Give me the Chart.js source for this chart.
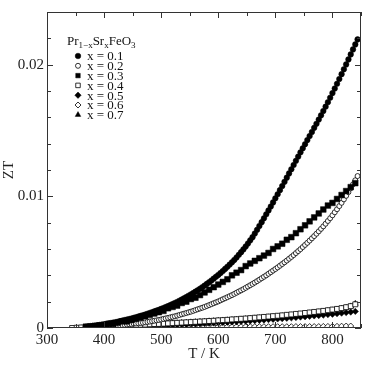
<!DOCTYPE html>
<html>
<head>
<meta charset="utf-8">
<script src="https://cdn.jsdelivr.net/npm/chart.js@4"></script>
<style>
  html, body { margin: 0; padding: 0; background: #fff; }
  #wrap { width: 367px; height: 365px; }
</style>
</head>
<body>
<div id="wrap"><canvas id="ztChart" width="367" height="365"></canvas></div>
<script>
// temperature grids (K): fine grid for x = 0.1, 0.2; coarse grid for the rest
const tempsFine = [
  368, 372, 376, 380, 384, 388, 392, 396, 400, 404,
  408, 412, 416, 420, 424, 428, 432, 436, 440, 444,
  448, 452, 456, 460, 464, 468, 472, 476, 480, 484,
  488, 492, 496, 500, 504, 508, 512, 516, 520, 524,
  528, 532, 536, 540, 544, 548, 552, 556, 560, 564,
  568, 572, 576, 580, 584, 588, 592, 596, 600, 604,
  608, 612, 616, 620, 624, 628, 632, 636, 640, 644,
  648, 652, 656, 660, 664, 668, 672, 676, 680, 684,
  688, 692, 696, 700, 704, 708, 712, 716, 720, 724,
  728, 732, 736, 740, 744, 748, 752, 756, 760, 764,
  768, 772, 776, 780, 784, 788, 792, 796, 800, 804,
  808, 812, 816, 820, 824, 828, 832, 836, 840, 844
];
const temps = [
  344, 352, 360, 368, 376, 384, 392, 400, 408,
  416, 424, 432, 440, 448, 456, 464, 472, 480,
  488, 496, 504, 512, 520, 528, 536, 544, 552,
  560, 568, 576, 584, 592, 600, 608, 616, 624,
  632, 640, 648, 656, 664, 672, 680, 688, 696,
  704, 712, 720, 728, 736, 744, 752, 760, 768,
  776, 784, 792, 800, 808, 816, 824, 832, 840
];

// ZT, x = 0.1 (on tempsFine)
const zt01 = [
  0.00010, 0.00012, 0.00014, 0.00016, 0.00018, 0.00020, 0.00023, 0.00026, 0.00029, 0.00032,
  0.00035, 0.00038, 0.00041, 0.00044, 0.00048, 0.00052, 0.00056, 0.00060, 0.00064, 0.00068,
  0.00072, 0.00077, 0.00082, 0.00087, 0.00092, 0.00097, 0.00102, 0.00108, 0.00114, 0.00120,
  0.00126, 0.00132, 0.00138, 0.00145, 0.00152, 0.00159, 0.00166, 0.00174, 0.00182, 0.00190,
  0.00198, 0.00207, 0.00216, 0.00225, 0.00235, 0.00245, 0.00255, 0.00265, 0.00276, 0.00287,
  0.00298, 0.00310, 0.00322, 0.00335, 0.00348, 0.00361, 0.00375, 0.00389, 0.00403, 0.00418,
  0.00433, 0.00449, 0.00465, 0.00482, 0.00499, 0.00517, 0.00536, 0.00556, 0.00576, 0.00597,
  0.00619, 0.00642, 0.00666, 0.00690, 0.00718, 0.00746, 0.00775, 0.00804, 0.00833, 0.00863,
  0.00893, 0.00923, 0.00954, 0.00985, 0.01016, 0.01047, 0.01078, 0.01110, 0.01142, 0.01174,
  0.01206, 0.01238, 0.01270, 0.01302, 0.01334, 0.01365, 0.01396, 0.01427, 0.01458, 0.01489,
  0.01520, 0.01551, 0.01583, 0.01615, 0.01648, 0.01681, 0.01715, 0.01749, 0.01784, 0.01819,
  0.01855, 0.01891, 0.01928, 0.01965, 0.02002, 0.02040, 0.02078, 0.02116, 0.02154, 0.02192
];
// ZT, x = 0.2 (on tempsFine)
const zt02 = [
  null, null, 0.00005, 0.00006, 0.00007, 0.00008, 0.00009, 0.00010, 0.00011, 0.00012,
  0.00013, 0.00014, 0.00015, 0.00016, 0.00018, 0.00020, 0.00022, 0.00024, 0.00026, 0.00028,
  0.00030, 0.00032, 0.00034, 0.00036, 0.00038, 0.00040, 0.00043, 0.00046, 0.00049, 0.00052,
  0.00055, 0.00058, 0.00061, 0.00065, 0.00069, 0.00073, 0.00077, 0.00081, 0.00085, 0.00089,
  0.00094, 0.00099, 0.00104, 0.00109, 0.00114, 0.00119, 0.00124, 0.00130, 0.00136, 0.00142,
  0.00148, 0.00154, 0.00160, 0.00167, 0.00174, 0.00181, 0.00188, 0.00195, 0.00202, 0.00210,
  0.00218, 0.00226, 0.00234, 0.00242, 0.00250, 0.00259, 0.00268, 0.00277, 0.00286, 0.00295,
  0.00305, 0.00315, 0.00325, 0.00335, 0.00345, 0.00356, 0.00367, 0.00378, 0.00389, 0.00400,
  0.00412, 0.00424, 0.00436, 0.00448, 0.00460, 0.00473, 0.00486, 0.00499, 0.00512, 0.00526,
  0.00540, 0.00554, 0.00569, 0.00584, 0.00599, 0.00615, 0.00631, 0.00647, 0.00664, 0.00681,
  0.00698, 0.00716, 0.00734, 0.00753, 0.00772, 0.00792, 0.00813, 0.00834, 0.00856, 0.00879,
  0.00902, 0.00926, 0.00951, 0.00977, 0.01004, 0.01032, 0.01061, 0.01091, 0.01122, 0.01154
];
// ZT, x = 0.3 ... 0.7 (on temps)
const zt03 = [
  null, null, null, 0.0001, 0.0001, 0.00015, 0.0002, 0.0002, 0.0003,
  0.0003, 0.0004, 0.0005, 0.0005, 0.0006, 0.0007, 0.0008, 0.0009, 0.0010,
  0.0011, 0.0012, 0.0013, 0.0015, 0.0016, 0.0017, 0.0019, 0.0020, 0.0022,
  0.0023, 0.0025, 0.0027, 0.0029, 0.0031, 0.0033, 0.0035, 0.0037, 0.0040,
  0.0042, 0.0044, 0.0047, 0.0049, 0.0051, 0.0053, 0.0055, 0.0057, 0.0060,
  0.0062, 0.0064, 0.0067, 0.0069, 0.0072, 0.0075, 0.0078, 0.0081, 0.0084,
  0.0087, 0.0090, 0.0093, 0.0095, 0.0098, 0.0101, 0.0104, 0.0107, 0.0110
];
const zt04 = [
  0.00000, 0.00002, 0.00004, 0.00006, 0.00008, 0.00010, 0.00011, 0.00012, 0.00014,
  0.00015, 0.00017, 0.00018, 0.00020, 0.00021, 0.00023, 0.00025, 0.00026, 0.00028,
  0.00030, 0.00031, 0.00033, 0.00035, 0.00037, 0.00039, 0.00041, 0.00043, 0.00045,
  0.00047, 0.00049, 0.00051, 0.00053, 0.00055, 0.00058, 0.00060, 0.00062, 0.00065,
  0.00067, 0.00070, 0.00072, 0.00075, 0.00078, 0.00081, 0.00084, 0.00087, 0.00090,
  0.00093, 0.00096, 0.00100, 0.00103, 0.00107, 0.00110, 0.00114, 0.00118, 0.00122,
  0.00126, 0.00130, 0.00135, 0.00140, 0.00145, 0.00151, 0.00158, 0.00166, 0.00180
];
const zt05 = [
  null, null, 0.00000, 0.00002, 0.00003, 0.00004, 0.00005, 0.00006, 0.00007,
  0.00008, 0.00009, 0.00010, 0.00011, 0.00012, 0.00013, 0.00014, 0.00015, 0.00016,
  0.00017, 0.00018, 0.00020, 0.00021, 0.00023, 0.00024, 0.00026, 0.00027, 0.00029,
  0.00030, 0.00032, 0.00034, 0.00036, 0.00038, 0.00040, 0.00042, 0.00044, 0.00046,
  0.00048, 0.00050, 0.00052, 0.00054, 0.00057, 0.00059, 0.00061, 0.00064, 0.00066,
  0.00069, 0.00071, 0.00074, 0.00077, 0.00080, 0.00083, 0.00086, 0.00089, 0.00092,
  0.00095, 0.00098, 0.00102, 0.00105, 0.00109, 0.00113, 0.00117, 0.00121, 0.00126
];
const zt06 = [
  null, null, null, 0.00008, 0.00008, 0.00009, 0.00009, 0.00009, 0.00010,
  0.00010, 0.00010, 0.00010, 0.00010, 0.00010, 0.00010, 0.00010, 0.00010, 0.00010,
  0.00010, 0.00010, 0.00010, 0.00010, 0.00010, 0.00010, 0.00010, 0.00010, 0.00010,
  0.00010, 0.00010, 0.00010, 0.00010, 0.00010, 0.00010, 0.00010, 0.00010, 0.00010,
  0.00010, 0.00010, 0.00010, 0.00010, 0.00010, 0.00010, 0.00010, 0.00010, 0.00010,
  0.00010, 0.00010, 0.00010, 0.00010, 0.00011, 0.00011, 0.00011, 0.00011, 0.00011,
  0.00011, 0.00012, 0.00012, 0.00012, 0.00013, 0.00014, 0.00015, 0.00015, null
];
const zt07 = [
  null, null, null, null, 0.00003, 0.00005, 0.00007, 0.00009, 0.00011,
  0.00013, 0.00015, 0.00017, 0.00019, 0.00021, 0.00022, 0.00024, 0.00026, 0.00027,
  0.00029, 0.00031, 0.00032, 0.00034, 0.00036, 0.00038, 0.00040, 0.00042, 0.00044,
  0.00046, 0.00048, 0.00050, 0.00052, 0.00054, 0.00056, 0.00058, 0.00060, 0.00062,
  0.00064, 0.00066, 0.00069, 0.00071, 0.00074, 0.00076, 0.00079, 0.00082, 0.00085,
  0.00088, 0.00091, 0.00094, 0.00097, 0.00100, 0.00104, 0.00108, 0.00112, 0.00116,
  0.00120, 0.00125, 0.00130, 0.00135, 0.00141, 0.00147, 0.00154, 0.00165, 0.00185
];

const seriesLabels = ['x = 0.1', 'x = 0.2', 'x = 0.3', 'x = 0.4', 'x = 0.5', 'x = 0.6', 'x = 0.7'];

const xMajorTicks = [300, 400, 500, 600, 700, 800];
const xMinorTicks = [350, 450, 550, 650, 750, 850];
const yMajorTicks = [0, 0.01, 0.02];
const yMinorTicks = [0.002, 0.004, 0.006, 0.008, 0.012, 0.014, 0.016, 0.018, 0.022];

const SERIF = "'Liberation Serif', 'Times New Roman', serif";

function toPoints(ts, vals) {
    const pts = [];
    vals.forEach((v, i) => { if (v !== null) pts.push({ x: ts[i], y: v }); });
    return pts;
}

// marker look per series
const styles = [
    { pointStyle: 'circle', filled: true, r: 2.8 },
    { pointStyle: 'circle', filled: false, r: 2.5 },
    { pointStyle: 'rect', filled: true, r: 4.0 },
    { pointStyle: 'rect', filled: false, r: 3.5 },
    { pointStyle: 'rectRot', filled: true, r: 3.2 },
    { pointStyle: 'rectRot', filled: false, r: 3.0 },
    { pointStyle: 'triangle', filled: true, r: 3.4 }
];
const allSeries = [
    [tempsFine, zt01], [tempsFine, zt02], [temps, zt03], [temps, zt04],
    [temps, zt05], [temps, zt06], [temps, zt07]
];

const datasets = allSeries.map(([ts, vals], i) => ({
    label: seriesLabels[i],
    data: toPoints(ts, vals),
    showLine: false,
    pointStyle: styles[i].pointStyle,
    pointRadius: styles[i].r,
    pointHoverRadius: styles[i].r,
    pointBackgroundColor: styles[i].filled ? '#000' : '#fff',
    pointBorderColor: '#000',
    pointBorderWidth: styles[i].filled ? 0.5 : 0.8
}));
// draw low series first so the big curves sit on top
const drawOrder = [5, 4, 6, 3, 1, 2, 0];
drawOrder.forEach((idx, k) => { datasets[idx].order = drawOrder.length - k; });

const framePlugin = {
    id: 'frame',
    afterDraw(chart) {
        const { ctx, chartArea: a, scales: { x, y } } = chart;
        ctx.save();
        ctx.strokeStyle = '#333';
        ctx.lineWidth = 1;
        ctx.strokeRect(a.left + 0.5, a.top + 0.5, a.right - a.left - 1, a.bottom - a.top - 1);
        ctx.beginPath();
        const xt = (v, len) => {
            const px = Math.round(x.getPixelForValue(v)) + 0.5;
            ctx.moveTo(px, a.bottom); ctx.lineTo(px, a.bottom - len);
            ctx.moveTo(px, a.top); ctx.lineTo(px, a.top + len);
        };
        const yt = (v, len) => {
            const py = Math.round(y.getPixelForValue(v)) + 0.5;
            ctx.moveTo(a.left, py); ctx.lineTo(a.left + len, py);
            ctx.moveTo(a.right, py); ctx.lineTo(a.right - len, py);
        };
        xMajorTicks.forEach(v => xt(v, 6));
        xMinorTicks.forEach(v => xt(v, 4));
        yMajorTicks.forEach(v => yt(v, 6));
        yMinorTicks.forEach(v => yt(v, 4));
        ctx.stroke();
        ctx.restore();
    }
};

const legendPlugin = {
    id: 'inlineLegend',
    afterDatasetsDraw(chart) {
        const ctx = chart.ctx;
        ctx.save();
        ctx.fillStyle = '#111';
        ctx.textBaseline = 'alphabetic';
        // title Pr(1-x)Sr(x)FeO(3)
        let tx = 67;
        const ty = 45;
        const parts = [['Pr', false], ['1\u2212x', true], ['Sr', false], ['x', true], ['FeO', false], ['3', true]];
        parts.forEach(([s, sub]) => {
            ctx.font = (sub ? '9px ' : '13px ') + SERIF;
            ctx.fillText(s, tx, sub ? ty + 3 : ty);
            tx += ctx.measureText(s).width;
        });
        ctx.font = '13px ' + SERIF;
        ctx.textBaseline = 'middle';
        seriesLabels.forEach((lab, i) => {
            const cy = 56 + i * 9.8;
            const st = styles[i];
            ctx.fillStyle = st.filled ? '#000' : '#fff';
            ctx.strokeStyle = '#000';
            ctx.lineWidth = st.filled ? 0.5 : 0.8;
            Chart.helpers.drawPoint(ctx, { pointStyle: st.pointStyle, radius: Math.min(st.r, 3.2), borderWidth: ctx.lineWidth, rotation: 0 }, 78, cy);
            ctx.fillStyle = '#111';
            ctx.fillText(lab, 87, cy + 1);
        });
        ctx.restore();
    }
};

new Chart(document.getElementById('ztChart').getContext('2d'), {
    type: 'scatter',
    data: { datasets },
    options: {
        responsive: false,
        animation: false,
        events: [],
        layout: { padding: { top: 12, right: 6, left: 0, bottom: 0 } },
        plugins: { legend: { display: false }, tooltip: { enabled: false } },
        scales: {
            x: {
                type: 'linear', min: 300, max: 850,
                grid: { display: false, drawTicks: false },
                border: { display: false },
                afterBuildTicks: s => { s.ticks = xMajorTicks.map(v => ({ value: v })); },
                afterFit: s => { s.height = 37; },
                ticks: { color: '#222', padding: 3, font: { family: SERIF, size: 15 }, callback: v => String(v) },
                title: { display: true, text: 'T / K', color: '#222', padding: { top: 0, bottom: 2 }, font: { family: SERIF, size: 15 } }
            },
            y: {
                type: 'linear', min: 0, max: 0.024,
                grid: { display: false, drawTicks: false },
                border: { display: false },
                afterBuildTicks: s => { s.ticks = yMajorTicks.map(v => ({ value: v })); },
                afterFit: s => { s.width = 47; },
                ticks: { color: '#222', padding: 3, font: { family: SERIF, size: 15 }, callback: v => (v === 0 ? '0' : String(v)) },
                title: { display: true, text: 'ZT', color: '#222', padding: { top: 0, bottom: 0 }, font: { family: SERIF, size: 15 } }
            }
        }
    },
    plugins: [framePlugin, legendPlugin]
});
</script>
</body>
</html>
